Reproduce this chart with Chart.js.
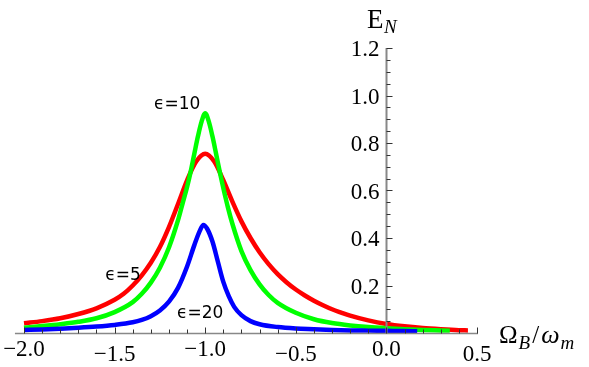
<!DOCTYPE html>
<html><head><meta charset="utf-8">
<script src="https://cdn.jsdelivr.net/npm/chart.js@4/dist/chart.umd.min.js"></script>
<style>html,body{margin:0;padding:0;background:#fff}#wrap{width:589px;height:367px;position:relative}</style>
</head><body><div id="wrap"><canvas id="c" width="589" height="367"></canvas></div>
<script>
// ---- data ----
const xRed = [-2.0,-1.9,-1.8,-1.7,-1.6,-1.5,-1.45,-1.4,-1.35,-1.3,-1.25,-1.2,-1.15,-1.1,-1.05,-1.0,-0.95,-0.9,-0.85,-0.8,-0.75,-0.7,-0.65,-0.6,-0.55,-0.5,-0.45,-0.4,-0.35,-0.3,-0.25,-0.2,-0.1,0.0,0.1,0.2,0.3,0.4,0.45];
const yRed = [0.041,0.050,0.062,0.080,0.104,0.140,0.165,0.200,0.243,0.296,0.362,0.446,0.543,0.643,0.722,0.755,0.722,0.643,0.553,0.470,0.400,0.340,0.290,0.248,0.213,0.183,0.158,0.136,0.117,0.100,0.086,0.073,0.053,0.038,0.028,0.021,0.016,0.012,0.011];

const xGreen = [-2.0,-1.9,-1.8,-1.7,-1.6,-1.5,-1.4,-1.35,-1.3,-1.25,-1.2,-1.15,-1.125,-1.1,-1.08,-1.06,-1.04,-1.02,-1.0,-0.98,-0.96,-0.94,-0.92,-0.9,-0.875,-0.85,-0.8,-0.75,-0.7,-0.65,-0.6,-0.5,-0.4,-0.3,-0.2,-0.1,0.0,0.1,0.2,0.3,0.35];
const yGreen = [0.022,0.029,0.037,0.047,0.062,0.088,0.130,0.165,0.212,0.275,0.360,0.475,0.545,0.615,0.680,0.755,0.828,0.890,0.925,0.890,0.828,0.755,0.680,0.610,0.530,0.460,0.345,0.265,0.205,0.160,0.127,0.085,0.058,0.042,0.032,0.025,0.020,0.016,0.013,0.011,0.010];

const xBlue = [-2.0,-1.9,-1.8,-1.7,-1.6,-1.5,-1.4,-1.35,-1.3,-1.25,-1.2,-1.15,-1.1,-1.06,-1.03,-1.01,-0.99,-0.96,-0.93,-0.9,-0.87,-0.84,-0.8,-0.75,-0.7,-0.6,-0.5,-0.4,-0.3,-0.2,-0.1,0.0,0.1,0.17];
const yBlue = [0.013,0.015,0.018,0.022,0.027,0.034,0.045,0.055,0.071,0.095,0.132,0.190,0.280,0.370,0.430,0.455,0.440,0.385,0.300,0.215,0.155,0.110,0.075,0.050,0.037,0.025,0.019,0.016,0.013,0.011,0.010,0.009,0.008,0.007];

const seriesLabels = ['ϵ=20','ϵ=10','ϵ=5'];
const xTickValues = [-2.0,-1.5,-1.0,-0.5,0.0,0.5];
const xTickLabels = ['\u22122.0','\u22121.5','\u22121.0','\u22120.5','0.0','0.5'];
const yTickValues = [0.2,0.4,0.6,0.8,1.0,1.2];
const yTickLabels = ['0.2','0.4','0.6','0.8','1.0','1.2'];

// annotation anchors in data coordinates
const curveNotes = [
  {text: seriesLabels[1], x: -1.155, y: 0.962},
  {text: seriesLabels[2], x: -1.453, y: 0.242},
  {text: seriesLabels[0], x: -1.028, y: 0.082}
];

function pts(xs, ys){ return xs.map((x,i)=>({x:x, y:ys[i]})); }

const axesPlugin = {
  id: 'axesPlugin',
  afterDatasetsDraw(chart){
    const ctx = chart.ctx;
    const xs = chart.scales.x, ys = chart.scales.y;
    const X = v => xs.getPixelForValue(v), Y = v => ys.getPixelForValue(v);
    ctx.save();
    const y0 = Math.round(Y(0)) + 0.5;
    const x0 = Math.round(X(0)) + 0.5;
    // x axis line
    ctx.strokeStyle = '#888';
    ctx.lineWidth = 1.5;
    ctx.beginPath(); ctx.moveTo(X(-2.05), y0); ctx.lineTo(X(0.5)+1, y0); ctx.stroke();
    // y axis line
    ctx.lineWidth = 2;
    ctx.beginPath(); ctx.moveTo(x0, y0); ctx.lineTo(x0, Y(1.2)); ctx.stroke();
    // x ticks
    ctx.strokeStyle = '#333';
    ctx.lineWidth = 1;
    for (let i = -20; i <= 5; i++) {
      const v = i/10;
      const major = (i % 5 === 0);
      const px = Math.round(X(v)) + 0.5;
      ctx.beginPath(); ctx.moveTo(px, y0); ctx.lineTo(px, y0 - (major ? 6 : 4)); ctx.stroke();
    }
    // y ticks
    for (let i = 1; i <= 24; i++) {
      const v = i*0.05;
      const major = (i % 4 === 0);
      const py = Math.round(Y(v)) + 0.5;
      ctx.beginPath(); ctx.moveTo(x0, py); ctx.lineTo(x0 + (major ? 6 : 4), py); ctx.stroke();
    }
    // tick labels
    ctx.fillStyle = '#000';
    ctx.font = '23px "Liberation Serif", "Times New Roman", serif';
    ctx.textAlign = 'center';
    ctx.textBaseline = 'alphabetic';
    xTickValues.forEach((v,i) => {
      const base = (i % 2 === 0) ? 356 : 361;
      ctx.fillText(xTickLabels[i], X(v), base);
    });
    ctx.textAlign = 'right';
    yTickValues.forEach((v,i) => {
      ctx.fillText(yTickLabels[i], x0 - 7, Y(v) + 8);
    });
    // axis titles
    ctx.textAlign = 'left';
    ctx.font = '27px "Liberation Serif", serif';
    ctx.fillText('E', 367, 28);
    ctx.font = 'italic 19px "Liberation Serif", serif';
    ctx.fillText('N', 384, 33);
    let cx = 499;
    ctx.font = '25px "Liberation Serif", serif';
    ctx.fillText('\u03A9', cx, 343); cx += ctx.measureText('\u03A9').width + 1;
    ctx.font = 'italic 19px "Liberation Serif", serif';
    ctx.fillText('B', cx, 349); cx += ctx.measureText('B').width + 2;
    ctx.font = '25px "Liberation Serif", serif';
    ctx.fillText('/', cx, 343); cx += ctx.measureText('/').width + 2;
    ctx.font = 'italic 26px "Liberation Serif", serif';
    ctx.fillText('\u03C9', cx, 343); cx += ctx.measureText('\u03C9').width + 1;
    ctx.font = 'italic 19px "Liberation Serif", serif';
    ctx.fillText('m', cx, 349);
    // curve notes
    ctx.font = '17px "DejaVu Sans", sans-serif';
    ctx.textAlign = 'center';
    ctx.textBaseline = 'middle';
    curveNotes.forEach(n => ctx.fillText(n.text, X(n.x), Y(n.y)));
    ctx.restore();
  }
};

new Chart(document.getElementById('c'), {
  type: 'scatter',
  data: {
    datasets: [
      {label: seriesLabels[0], data: pts(xBlue, yBlue), borderColor: '#0000ff'},
      {label: seriesLabels[1], data: pts(xGreen, yGreen), borderColor: '#00ff00'},
      {label: seriesLabels[2], data: pts(xRed, yRed), borderColor: '#ff0000'}
    ].map(d => Object.assign(d, {showLine: true, borderWidth: 4.5, pointRadius: 0, pointHoverRadius: 0, cubicInterpolationMode: 'monotone', clip: false, fill: false}))
  },
  options: {
    responsive: false,
    animation: false,
    devicePixelRatio: 1,
    layout: {padding: {left: 24, right: 112, top: 48, bottom: 34}},
    plugins: {legend: {display: false}, tooltip: {enabled: false}},
    scales: {
      x: {type: 'linear', min: -2, max: 0.5, display: false},
      y: {type: 'linear', min: 0, max: 1.2, display: false}
    }
  },
  plugins: [axesPlugin]
});
</script></body></html>
